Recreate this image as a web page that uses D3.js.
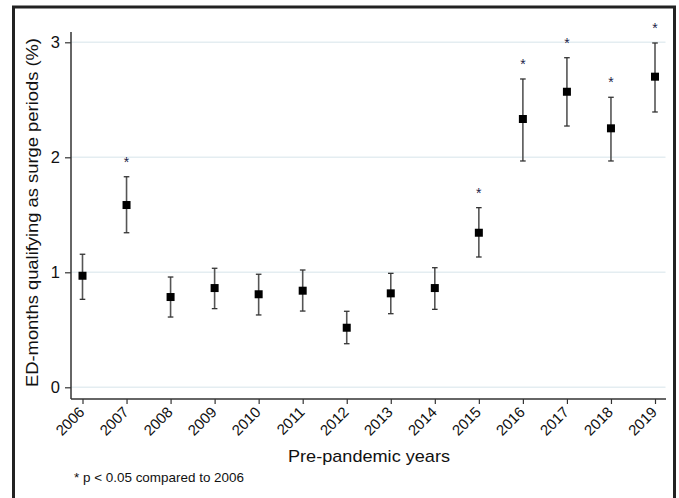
<!DOCTYPE html>
<html><head><meta charset="utf-8">
<script src="https://cdn.jsdelivr.net/npm/d3@7"></script>
<style>
html,body{margin:0;padding:0;background:#fff;}
svg{display:block;font-family:"Liberation Sans",Arial,sans-serif;}
</style></head>
<body><svg id="chart" width="679" height="498"></svg>
<script>
const years = ["2006","2007","2008","2009","2010","2011","2012","2013","2014","2015","2016","2017","2018","2019"];
const estimate = [0.97,1.585,0.785,0.863,0.809,0.84,0.518,0.817,0.863,1.344,2.333,2.57,2.252,2.701];
const lower = [0.765,1.344,0.611,0.684,0.629,0.663,0.379,0.64,0.678,1.133,1.968,2.272,1.968,2.394];
const upper = [1.157,1.831,0.959,1.035,0.983,1.02,0.661,0.991,1.04,1.562,2.681,2.866,2.522,2.994];
const significant = [false,true,false,false,false,false,false,false,false,true,true,true,true,true];
const yTicks = [0,1,2,3];
const yTitle = "ED-months qualifying as surge periods (%)";
const xTitle = "Pre-pandemic years";
const footnote = "* p < 0.05 compared to 2006";

(function(){
const data = years.map((yr,i)=>({year:yr, est:estimate[i], lo:lower[i], hi:upper[i], sig:significant[i]}));

const svg = d3.select("#chart");
// outer frame
svg.append("rect").attr("x",13.5).attr("y",7).attr("width",661).attr("height",500)
  .attr("fill","#fff").attr("stroke","#222").attr("stroke-width",3);

const pLeft = 71, pRight = 666, pTop = 32, pBottom = 399;
const x = d3.scalePoint().domain(years).range([82.5, 655]);
const y = d3.scaleLinear().domain([0,3]).range([387.3, 42.3]);

// gridlines
svg.append("g").selectAll("line").data(yTicks).join("line")
  .attr("x1",pLeft).attr("x2",pRight-0.5)
  .attr("y1",d=>y(d)).attr("y2",d=>y(d))
  .attr("stroke","#e4edf1").attr("stroke-width",1.5);

// y axis
const yAxis = svg.append("g").attr("transform",`translate(${pLeft},0)`)
  .call(d3.axisLeft(y).tickValues(yTicks).tickFormat(d3.format("d")).tickSize(6).tickPadding(5));
yAxis.select(".domain").attr("d",`M0,${pTop}V${pBottom}`).attr("stroke","#333").attr("stroke-width",1.5);
yAxis.selectAll(".tick line").attr("stroke","#333").attr("stroke-width",1.2);
yAxis.selectAll(".tick text").attr("font-size",16.5).attr("fill","#111").attr("font-family","Liberation Sans, Arial, sans-serif");

// x axis
const xAxis = svg.append("g").attr("transform",`translate(0,${pBottom})`)
  .call(d3.axisBottom(x).tickSize(5).tickPadding(3));
xAxis.select(".domain").attr("d",`M${pLeft},0H${pRight}`).attr("stroke","#333").attr("stroke-width",1.5);
xAxis.selectAll(".tick line").attr("stroke","#333").attr("stroke-width",1.2);
xAxis.selectAll(".tick text").attr("font-size",15).attr("fill","#111")
  .attr("font-family","Liberation Sans, Arial, sans-serif")
  .attr("text-anchor","end").attr("dy",null).attr("y",0)
  .attr("transform","translate(2.5,14) rotate(-45)");

// error bars
const g = svg.append("g");
g.selectAll("line.bar").data(data).join("line").attr("class","bar")
  .attr("x1",d=>x(d.year)).attr("x2",d=>x(d.year))
  .attr("y1",d=>y(d.lo)).attr("y2",d=>y(d.hi))
  .attr("stroke","#555").attr("stroke-width",1.6);
["lo","hi"].forEach(k=>{
  g.selectAll("line.cap"+k).data(data).join("line").attr("class","cap"+k)
    .attr("x1",d=>x(d.year)-2.8).attr("x2",d=>x(d.year)+2.8)
    .attr("y1",d=>y(d[k])).attr("y2",d=>y(d[k]))
    .attr("stroke","#333").attr("stroke-width",1.3);
});
g.selectAll("rect.pt").data(data).join("rect").attr("class","pt")
  .attr("x",d=>x(d.year)-4).attr("y",d=>y(d.est)-4)
  .attr("width",8).attr("height",8).attr("fill","#000");

// significance stars
g.selectAll("text.star").data(data.filter(d=>d.sig)).join("text").attr("class","star")
  .attr("x",d=>x(d.year)).attr("y",d=>y(d.hi)-18+8)
  .attr("text-anchor","middle").attr("font-size",14).attr("fill","#1c2248")
  .text("*");

// titles
svg.append("text").attr("transform",`translate(37.5,212.5) rotate(-90)`)
  .attr("text-anchor","middle").attr("font-size",17).attr("fill","#111")
  .attr("textLength",349).attr("lengthAdjust","spacingAndGlyphs").text(yTitle);
svg.append("text").attr("x",369).attr("y",461.5)
  .attr("text-anchor","middle").attr("font-size",17).attr("fill","#111")
  .attr("textLength",162).attr("lengthAdjust","spacingAndGlyphs").text(xTitle);
svg.append("text").attr("x",74).attr("y",481.5)
  .attr("font-size",13).attr("fill","#111")
  .attr("textLength",170).attr("lengthAdjust","spacingAndGlyphs").text(footnote);
})();
</script></body></html>
